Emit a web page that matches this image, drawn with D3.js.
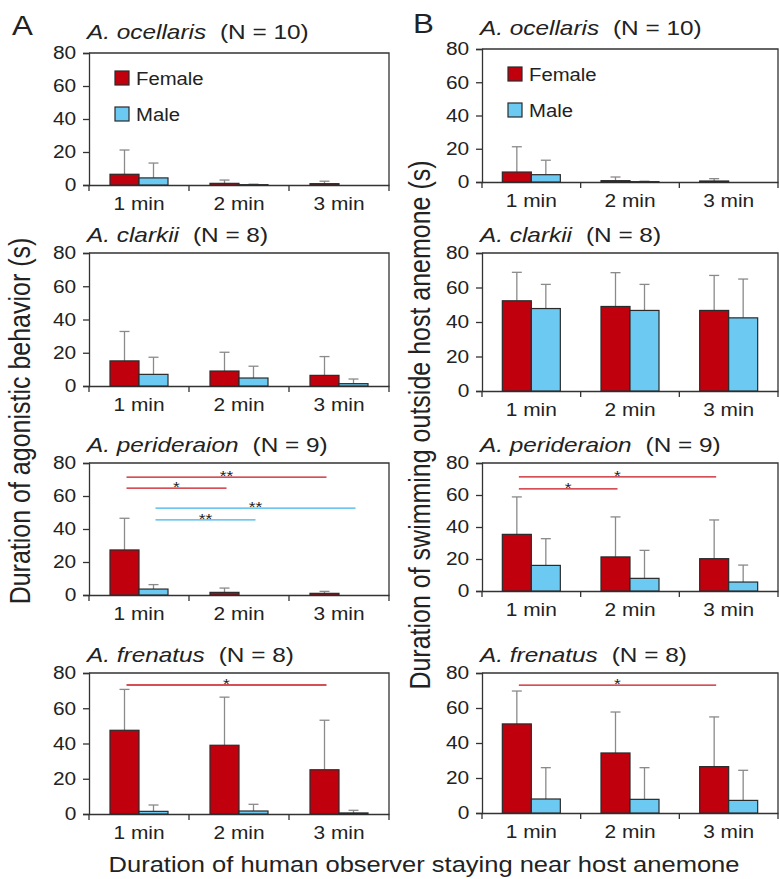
<!DOCTYPE html>
<html>
<head>
<meta charset="utf-8">
<script src="https://cdn.jsdelivr.net/npm/d3@7"></script>
<style>
  body { margin: 0; background: #fff; }
  svg { display: block; font-family: "Liberation Sans", Arial, sans-serif; }
</style>
</head>
<body>
<svg id="chart" width="779" height="879"></svg>
<script>
// categories and labels
var categories = ["1 min", "2 min", "3 min"];
var sexes = ["Female", "Male"];
var species = ["A. ocellaris", "A. clarkii", "A. perideraion", "A. frenatus"];
var sampleN = [10, 8, 9, 8];
var yTicks = [0, 20, 40, 60, 80];

// A: duration of agonistic behavior (mean, SD) per species, per time
var agonFemale = [[6.5, 1.0, 0.8], [15.1, 9.0, 6.4], [27.3, 1.6, 1.0], [47.5, 39.0, 25.1]];
var agonFemaleSD = [[14.7, 2.0, 1.5], [17.7, 11.3, 11.3], [19.2, 2.6, 1.2], [23.2, 27.3, 28.1]];
var agonMale = [[4.3, 0.2, 0], [7.0, 4.8, 1.4], [3.6, 0, 0], [1.5, 1.7, 0.6]];
var agonMaleSD = [[9.0, 0.3, 0], [10.3, 7.1, 2.8], [2.7, 0, 0], [3.6, 3.8, 1.5]];

// B: duration of swimming outside host anemone
var swimFemale = [[6.0, 0.8, 0.6], [52.3, 49.0, 46.7], [35.4, 21.3, 20.2], [50.9, 34.3, 26.5]];
var swimFemaleSD = [[15.2, 2.2, 1.4], [16.5, 19.6, 20.3], [23.4, 25.0, 24.2], [18.8, 23.4, 28.4]];
var swimMale = [[4.4, 0.2, 0], [47.8, 46.7, 42.4], [16.0, 7.9, 5.6], [8.0, 7.8, 7.2]];
var swimMaleSD = [[8.7, 0.3, 0], [14.0, 15.1, 22.5], [16.7, 17.5, 10.6], [17.9, 18.1, 17.2]];

// significance: [species index, sex, from category, to category, level, stars]
var agonSig = [
  [2, "Female", 0, 2, 71.5, "**"],
  [2, "Female", 0, 1, 64.8, "*"],
  [2, "Male", 0, 2, 52.7, "**"],
  [2, "Male", 0, 1, 45.5, "**"],
  [3, "Female", 0, 2, 73.2, "*"]
];
var swimSig = [
  [2, "Female", 0, 2, 71.3, "*"],
  [2, "Female", 0, 1, 63.8, "*"],
  [3, "Female", 0, 2, 73.1, "*"]
];

var colors = { Female: "#c1000d", Male: "#6ccaf2" };
var sigColors = { Female: "#c8141e", Male: "#3cb4ea" };
var ink = "#333";
var textInk = "#222";
var sx = 1.16; // the figure text is a bit wide

var svg = d3.select("#chart");

// horizontal text, stretched a little
function label(parent, x, y, size, str, anchor){
  return parent.append("text")
    .attr("transform", "translate(" + x + "," + y + ") scale(" + sx + ",1)")
    .attr("text-anchor", anchor || "start")
    .attr("font-size", size).attr("fill", textInk)
    .text(str);
}

// panel layouts (pixels)
var columns = [
  { key: "A", x: [89, 389], tops: [53, 253, 463, 673], zeros: [185, 386, 595, 814],
    female: agonFemale, femaleSD: agonFemaleSD, male: agonMale, maleSD: agonMaleSD, sig: agonSig,
    letterX: 12, letterY: 35 },
  { key: "B", x: [482, 778], tops: [49, 253, 463, 673], zeros: [182, 391, 591, 813],
    female: swimFemale, femaleSD: swimFemaleSD, male: swimMale, maleSD: swimMaleSD, sig: swimSig,
    letterX: 413, letterY: 33 }
];

columns.forEach(function(col){
  label(svg, col.letterX, col.letterY, 27, col.key);

  species.forEach(function(sp, si){
    var top = col.tops[si], zero = col.zeros[si];
    var x = d3.scaleBand().domain(categories).range(col.x);
    var bw = x.bandwidth();
    var xs = d3.scaleBand().domain(sexes).range([bw/2 - 29, bw/2 + 29]);
    var y = d3.scaleLinear().domain([0, 80]).range([zero, top]);

    var g = svg.append("g");

    // title
    var title = label(g, col.x[0] - 2, top - (si === 0 ? 14 : 11), 21, null);
    title.append("tspan").attr("font-style", "italic").text(sp);
    title.append("tspan").attr("dx", 12).text("(N = " + sampleN[si] + ")");

    // box (top and right)
    g.append("path")
      .attr("d", "M" + col.x[0] + "," + top + "H" + col.x[1] + "V" + zero)
      .attr("fill", "none").attr("stroke", ink).attr("stroke-width", 1.3);

    // y axis
    var yAxis = g.append("g")
      .attr("transform", "translate(" + col.x[0] + ",0)")
      .call(d3.axisLeft(y).tickValues(yTicks).tickSize(6).tickPadding(5));
    yAxis.selectAll("path, line").attr("stroke", ink).attr("stroke-width", 1.3);
    yAxis.selectAll("text").attr("font-size", 18).attr("fill", textInk)
      .attr("font-family", "Liberation Sans, Arial, sans-serif")
      .attr("transform", "scale(" + sx + ",1)");

    // x axis
    var xAxis = g.append("g")
      .attr("transform", "translate(0," + zero + ")")
      .call(d3.axisBottom(x).tickSize(0).tickPadding(12));
    xAxis.select(".domain").attr("stroke", ink).attr("stroke-width", 1.3);
    xAxis.selectAll("text").attr("font-size", 18).attr("fill", textInk)
      .attr("font-family", "Liberation Sans, Arial, sans-serif")
      .attr("transform", "scale(" + sx + ",1)");
    var bounds = categories.map(function(c){ return x(c); }).concat([col.x[1]]);
    g.selectAll(".xtick").data(bounds).enter().append("line")
      .attr("x1", function(d){ return d; }).attr("x2", function(d){ return d; })
      .attr("y1", zero).attr("y2", zero + 6)
      .attr("stroke", ink).attr("stroke-width", 1.3);

    // bars
    var rows = [];
    categories.forEach(function(c, ci){
      rows.push({ cat: c, sex: "Female", mean: col.female[si][ci], sd: col.femaleSD[si][ci] });
      rows.push({ cat: c, sex: "Male", mean: col.male[si][ci], sd: col.maleSD[si][ci] });
    });
    var cx = function(d){ return x(d.cat) + xs(d.sex) + xs.bandwidth()/2; };

    // error bars (upper only)
    var err = g.selectAll(".err").data(rows.filter(function(d){ return d.sd > 0; })).enter().append("g");
    err.append("line")
      .attr("x1", cx).attr("x2", cx)
      .attr("y1", function(d){ return y(d.mean); })
      .attr("y2", function(d){ return y(d.mean + d.sd); })
      .attr("stroke", "#8a8a8a").attr("stroke-width", 1.3);
    err.append("line")
      .attr("x1", function(d){ return cx(d) - 5; }).attr("x2", function(d){ return cx(d) + 5; })
      .attr("y1", function(d){ return y(d.mean + d.sd); })
      .attr("y2", function(d){ return y(d.mean + d.sd); })
      .attr("stroke", "#8a8a8a").attr("stroke-width", 1.3);

    g.selectAll(".bar").data(rows.filter(function(d){ return d.mean > 0; })).enter().append("rect")
      .attr("x", function(d){ return x(d.cat) + xs(d.sex); })
      .attr("width", xs.bandwidth())
      .attr("y", function(d){ return y(d.mean); })
      .attr("height", function(d){ return y(0) - y(d.mean); })
      .attr("fill", function(d){ return colors[d.sex]; })
      .attr("stroke", "#2a2a2a").attr("stroke-width", 1.2);

    // significance lines
    var sig = col.sig.filter(function(s){ return s[0] === si; });
    sig.forEach(function(s){
      var x1 = x(categories[s[2]]) + xs(s[1]) + xs.bandwidth()/2 + 2;
      var x2 = x(categories[s[3]]) + xs(s[1]) + xs.bandwidth()/2 + 2;
      var ly = y(s[4]);
      g.append("line")
        .attr("x1", x1).attr("x2", x2).attr("y1", ly).attr("y2", ly)
        .attr("stroke", sigColors[s[1]]).attr("stroke-width", 1.3);
      label(g, (x1 + x2)/2, ly + 4, 15, s[5], "middle");
    });

    // legend in first row
    if(si === 0){
      sexes.forEach(function(name, k){
        var ly = top + 18 + k * 36;
        g.append("rect")
          .attr("x", col.x[0] + 26).attr("y", ly)
          .attr("width", 14).attr("height", 14)
          .attr("fill", colors[name]).attr("stroke", "#2a2a2a").attr("stroke-width", 1.2);
        label(g, col.x[0] + 47, ly + 14, 17.5, name);
      });
    }
  });
});

// axis titles
svg.append("text")
  .attr("transform", "translate(30,421) scale(" + sx + ",1) rotate(-90)")
  .attr("text-anchor", "middle").attr("font-size", 25).attr("fill", textInk)
  .text("Duration of agonistic behavior (s)");
svg.append("text")
  .attr("transform", "translate(430,425) scale(" + sx + ",1) rotate(-90)")
  .attr("text-anchor", "middle").attr("font-size", 25).attr("fill", textInk)
  .text("Duration of swimming outside host anemone (s)");
label(svg, 424, 872, 22, "Duration of human observer staying near host anemone", "middle");
</script>
</body>
</html>
